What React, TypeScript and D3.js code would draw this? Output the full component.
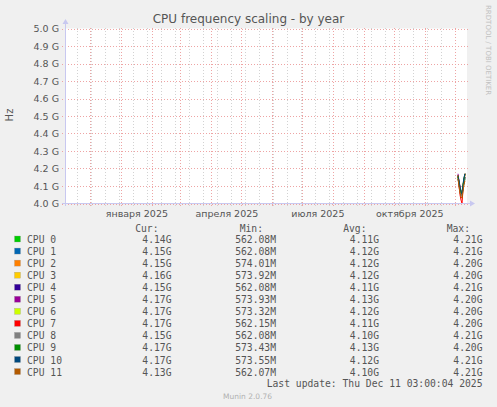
import { useEffect, useRef } from 'react';
import * as d3 from 'd3';

// series labels and munin colours
const cpuNames = ['CPU 0', 'CPU 1', 'CPU 2', 'CPU 3', 'CPU 4', 'CPU 5', 'CPU 6', 'CPU 7', 'CPU 8', 'CPU 9', 'CPU 10', 'CPU 11'];
const cpuColors = ['#00cc00', '#0066b3', '#ff8000', '#ffcc00', '#330099', '#990099', '#ccff00', '#ff0000', '#808080', '#008f00', '#00487d', '#b35a00'];

// daily samples, Dec 4 .. Dec 11 2025 (GHz)
const sampleDays = ['2025-12-04', '2025-12-05', '2025-12-06', '2025-12-07', '2025-12-08', '2025-12-09', '2025-12-10', '2025-12-11'];
const cpu0 = [4.15, 4.12, 4.09, 4.06, 4.05, 4.08, 4.12, 4.14];
const cpu1 = [4.14, 4.11, 4.08, 4.07, 4.06, 4.09, 4.13, 4.15];
const cpu2 = [4.16, 4.12, 4.08, 4.05, 4.06, 4.1, 4.13, 4.15];
const cpu3 = [4.15, 4.11, 4.07, 4.06, 4.07, 4.1, 4.14, 4.16];
const cpu4 = [4.16, 4.12, 4.09, 4.07, 4.05, 4.09, 4.12, 4.15];
const cpu5 = [4.17, 4.13, 4.1, 4.07, 4.06, 4.1, 4.14, 4.17];
const cpu6 = [4.15, 4.12, 4.08, 4.06, 4.07, 4.11, 4.14, 4.17];
const cpu7 = [4.16, 4.1, 4.05, 4.02, 4.0, 4.08, 4.13, 4.17];
const cpu8 = [4.14, 4.11, 4.07, 4.04, 4.05, 4.08, 4.12, 4.15];
const cpu9 = [4.16, 4.12, 4.09, 4.06, 4.06, 4.1, 4.14, 4.17];
const cpu10 = [4.15, 4.13, 4.09, 4.07, 4.06, 4.11, 4.15, 4.17];
const cpu11 = [4.14, 4.1, 4.06, 4.04, 4.03, 4.07, 4.11, 4.13];
const seriesValues = [cpu0, cpu1, cpu2, cpu3, cpu4, cpu5, cpu6, cpu7, cpu8, cpu9, cpu10, cpu11];

// legend columns
const curCol = ['4.14G', '4.15G', '4.15G', '4.16G', '4.15G', '4.17G', '4.17G', '4.17G', '4.15G', '4.17G', '4.17G', '4.13G'];
const minCol = ['562.08M', '562.08M', '574.01M', '573.92M', '562.08M', '573.93M', '573.32M', '562.15M', '562.08M', '573.43M', '573.55M', '562.07M'];
const avgCol = ['4.11G', '4.12G', '4.12G', '4.12G', '4.11G', '4.13G', '4.12G', '4.11G', '4.10G', '4.13G', '4.12G', '4.10G'];
const maxCol = ['4.21G', '4.21G', '4.20G', '4.20G', '4.21G', '4.20G', '4.20G', '4.20G', '4.21G', '4.20G', '4.21G', '4.21G'];

const yTicks = [4.0, 4.1, 4.2, 4.3, 4.4, 4.5, 4.6, 4.7, 4.8, 4.9, 5.0];
const monthLabels = ['2025-01-01', '2025-04-01', '2025-07-01', '2025-10-01'];
const monthNames = ['января 2025', 'апреля 2025', 'июля 2025', 'октября 2025'];

const W = 497;
const H = 407;

const App: React.FC = () => {
  const svgRef = useRef<SVGSVGElement | null>(null);

  useEffect(() => {
    if (!svgRef.current) return;
    const svg = d3.select(svgRef.current);
    svg.selectAll('*').remove();

    const start = new Date(2024, 10, 6, 3, 0, 4);
    const end = new Date(2025, 11, 11, 3, 0, 4);
    const x = d3.scaleTime().domain([start, end]).range([65, 465]);
    const y = d3.scaleLinear().domain([4.0, 5.0]).range([203.5, 28.5]);

    const sans = 'DejaVu Sans, sans-serif';
    const mono = 'DejaVu Sans Mono, monospace';

    svg.append('rect').attr('width', W).attr('height', H).attr('fill', '#f0f0f0');
    svg.append('rect').attr('x', 65).attr('y', 28.5).attr('width', 402).attr('height', 175).attr('fill', '#ffffff');

    // minor grid: every second Monday
    const minor = d3.timeMonday.range(new Date(2024, 10, 18), end, 2);
    svg.append('g').selectAll('line').data(minor).enter().append('line')
      .attr('x1', (d) => Math.round(x(d)) + 0.5).attr('x2', (d) => Math.round(x(d)) + 0.5)
      .attr('y1', 28).attr('y2', 206)
      .attr('stroke', '#d2d2d2').attr('stroke-width', 1).attr('stroke-dasharray', '1,2');

    // major grid: months
    const months = d3.timeMonth.range(new Date(2024, 11, 1), end);
    svg.append('g').selectAll('line').data(months).enter().append('line')
      .attr('x1', (d) => Math.round(x(d)) + 0.5).attr('x2', (d) => Math.round(x(d)) + 0.5)
      .attr('y1', 28).attr('y2', 206)
      .attr('stroke', '#eea4a4').attr('stroke-width', 1).attr('stroke-dasharray', '1,2');

    svg.append('g').selectAll('line').data(yTicks).enter().append('line')
      .attr('x1', 62).attr('x2', 468)
      .attr('y1', (d) => Math.round(y(d)) + 0.5).attr('y2', (d) => Math.round(y(d)) + 0.5)
      .attr('stroke', '#eea4a4').attr('stroke-width', 1).attr('stroke-dasharray', '1,2');

    svg.append('g').selectAll('text').data(yTicks).enter().append('text')
      .attr('x', 59).attr('y', (d) => y(d) + 3.5)
      .attr('text-anchor', 'end').attr('font-family', sans).attr('font-size', 9.5).attr('fill', '#555')
      .text((d) => `${d.toFixed(1)} G`);

    svg.append('g').selectAll('text').data(monthLabels).enter().append('text')
      .attr('x', (d) => x(d3.timeDay.offset(new Date(d), 16)))
      .attr('y', 217)
      .attr('text-anchor', 'middle').attr('font-family', sans).attr('font-size', 9.5).attr('fill', '#555')
      .text((_, i) => monthNames[i]);

    // series lines
    const clip = svg.append('clipPath').attr('id', 'plot-clip');
    clip.append('rect').attr('x', 65).attr('y', 28.5).attr('width', 402).attr('height', 175.5);
    const dates = sampleDays.map((d) => d3.timeParse('%Y-%m-%d')(d) as Date).map((d) => d3.timeHour.offset(d, 3));
    const line = d3.line<number>()
      .x((_, i) => x(dates[i]))
      .y((d) => y(d));
    svg.append('g').attr('clip-path', 'url(#plot-clip)')
      .selectAll('path').data(seriesValues).enter().append('path')
      .attr('d', (d) => line(d))
      .attr('fill', 'none')
      .attr('stroke', (_, i) => cpuColors[i])
      .attr('stroke-width', 1);

    // axes
    const axisColor = '#c8c8f0';
    svg.append('line').attr('x1', 62).attr('x2', 470).attr('y1', 203.5).attr('y2', 203.5).attr('stroke', axisColor);
    svg.append('line').attr('x1', 65.5).attr('x2', 65.5).attr('y1', 206).attr('y2', 24).attr('stroke', axisColor);
    svg.append('path').attr('d', 'M470,200.5 L475,203.5 L470,206.5 Z').attr('fill', axisColor);
    svg.append('path').attr('d', 'M62.5,24 L65.5,19 L68.5,24 Z').attr('fill', axisColor);

    svg.append('text').attr('x', W / 2).attr('y', 23)
      .attr('text-anchor', 'middle').attr('font-family', sans).attr('font-size', 12).attr('fill', '#555')
      .text('CPU frequency scaling - by year');

    svg.append('text').attr('transform', 'translate(13,115) rotate(-90)')
      .attr('text-anchor', 'middle').attr('font-family', sans).attr('font-size', 10).attr('fill', '#555')
      .text('Hz');

    svg.append('text').attr('transform', 'translate(486,5) rotate(90)')
      .attr('text-anchor', 'start').attr('font-family', sans).attr('font-size', 7).attr('fill', '#c0c0c0')
      .text('RRDTOOL / TOBI OETIKER');

    // legend
    const legend = svg.append('g').attr('font-family', mono).attr('font-size', 9.7).attr('fill', '#555');
    const headY = 231.5;
    const headers = [['Cur:', 158.5], ['Min:', 263], ['Avg:', 366.5], ['Max:', 470]] as const;
    headers.forEach(([t, hx]) => {
      legend.append('text').attr('x', hx).attr('y', headY).attr('text-anchor', 'end').text(t);
    });
    cpuNames.forEach((name, i) => {
      const ry = 239.5 + i * 12.05;
      legend.append('rect').attr('x', 14.5).attr('y', ry - 3.5).attr('width', 6).attr('height', 6)
        .attr('fill', cpuColors[i]).attr('stroke', '#999').attr('stroke-width', 0.3);
      legend.append('text').attr('x', 27).attr('y', ry + 3.5).text(name);
      legend.append('text').attr('x', 171.5).attr('y', ry + 3.5).attr('text-anchor', 'end').text(curCol[i]);
      legend.append('text').attr('x', 276).attr('y', ry + 3.5).attr('text-anchor', 'end').text(minCol[i]);
      legend.append('text').attr('x', 379).attr('y', ry + 3.5).attr('text-anchor', 'end').text(avgCol[i]);
      legend.append('text').attr('x', 482.5).attr('y', ry + 3.5).attr('text-anchor', 'end').text(maxCol[i]);
    });
    legend.append('text').attr('x', 482.5).attr('y', 386.5).attr('text-anchor', 'end')
      .text('Last update: Thu Dec 11 03:00:04 2025');

    svg.append('text').attr('x', 223).attr('y', 399)
      .attr('font-family', sans).attr('font-size', 7.5).attr('fill', '#b0b0b0')
      .text('Munin 2.0.76');
  }, []);

  return (
    <div>
      <style>{'body{margin:0}'}</style>
      <svg ref={svgRef} width={W} height={H}></svg>
    </div>
  );
};

export default App;
